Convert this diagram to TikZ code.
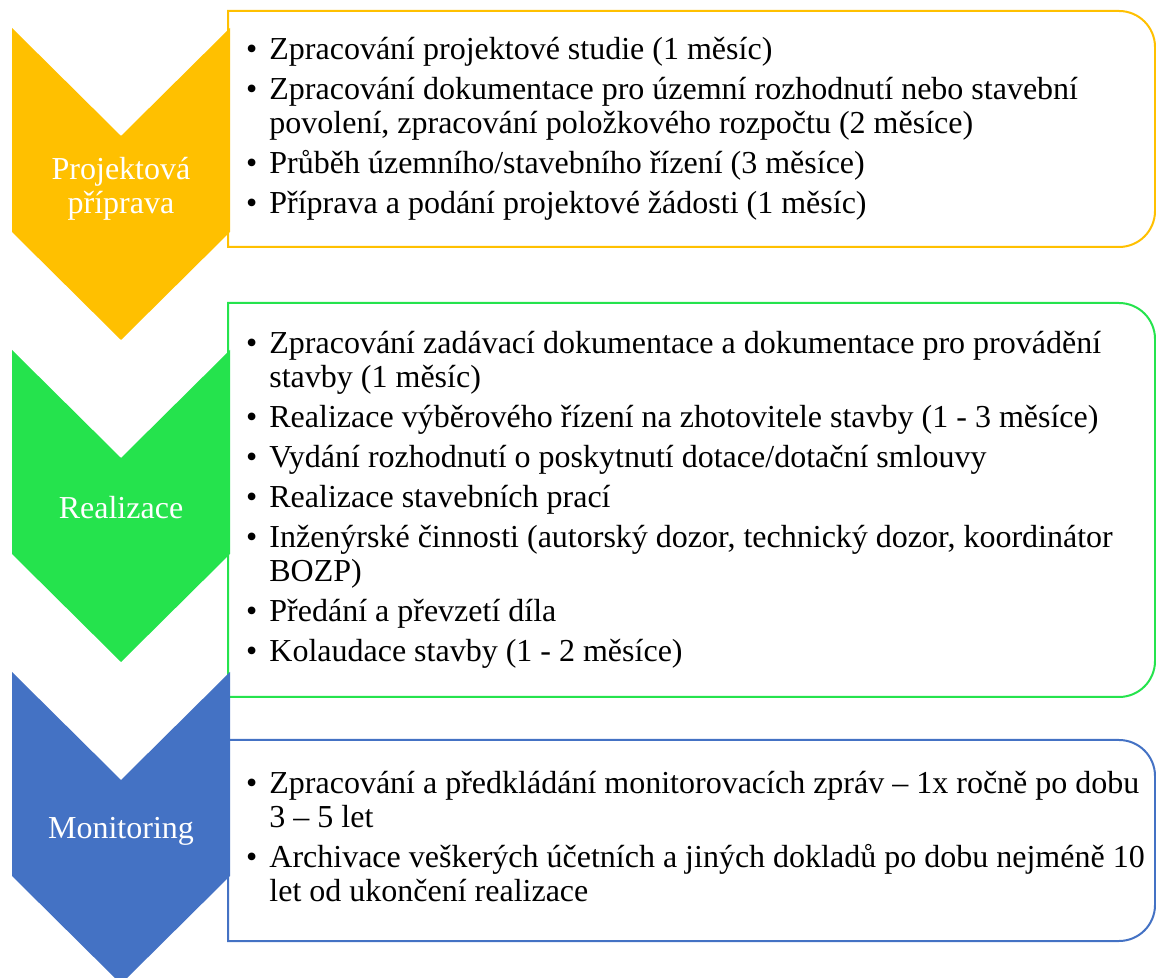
\documentclass[tikz,border=0pt]{standalone}
\usepackage{fontspec}
\setmainfont{Liberation Serif}
\usetikzlibrary{positioning}
\definecolor{planyellow}{RGB}{255,192,0}
\definecolor{plangreen}{RGB}{37,227,77}
\definecolor{planblue}{RGB}{68,114,196}
\tikzset{%
  phase chevron/.style={
    fill=#1,
    draw=none
  },
  phase box/.style={
    draw=#1,
    line width=2pt,
    fill=white
  },
  phase label/.style={
    text=white,
    align=center,
    font=\fontsize{32}{34}\selectfont
  },
  task list/.style={
    anchor=west,
    inner sep=0pt,
    font=\fontsize{32}{34}\selectfont
  },
}
\newcommand{\taskgap}{\\[6pt]}

\begin{document}
\begin{tikzpicture}[x=1pt, y=1pt]
\useasboundingbox (0,0) rectangle (1156,977);
% boxes
    \draw[phase box=planyellow] (228,730) -- (228,966) -- (1119,966)
        arc[start angle=90, end angle=0, radius=36] -- (1155,766)
        arc[start angle=0, end angle=-90, radius=36] -- cycle;
    \draw[phase box=plangreen] (228,280) -- (228,674) -- (1119,674)
        arc[start angle=90, end angle=0, radius=36] -- (1155,316)
        arc[start angle=0, end angle=-90, radius=36] -- cycle;
    \draw[phase box=planblue] (228,36) -- (228,237) -- (1119,237)
        arc[start angle=90, end angle=0, radius=36] -- (1155,72)
        arc[start angle=0, end angle=-90, radius=36] -- cycle;

% chevrons
    \fill[phase chevron=planyellow] (12,949) -- (121,841) -- (230,949) -- (230,745)
        -- (121,637) -- (12,745) -- cycle;
    \fill[phase chevron=plangreen] (12,627) -- (121,519) -- (230,627) -- (230,423)
        -- (121,315) -- (12,423) -- cycle;
    \fill[phase chevron=planblue] (12,305) -- (121,197) -- (230,305) -- (230,101)
        -- (121,-7) -- (12,101) -- cycle;

    \node[phase label] (priprava) at (121,788) {Projektová\\příprava};
    \node[phase label] (realizace) at (121,469) {Realizace};
    \node[phase label] (monitoring) at (121,146) {Monitoring};

% task lists
    \node[task list] (ukolyP) at (246,847) {%
      \begin{tabular}{@{}c@{\hspace{12pt}}l@{}}
      \textbullet & Zpracování projektové studie (1 měsíc)\taskgap
      \textbullet & Zpracování dokumentace pro územní rozhodnutí nebo stavební\\
                  & povolení, zpracování položkového rozpočtu (2 měsíce)\taskgap
      \textbullet & Průběh územního/stavebního řízení (3 měsíce)\taskgap
      \textbullet & Příprava a podání projektové žádosti (1 měsíc)
      \end{tabular}};
    \node[task list] (ukolyR) at (246,476) {%
      \begin{tabular}{@{}c@{\hspace{12pt}}l@{}}
      \textbullet & Zpracování zadávací dokumentace a dokumentace pro provádění\\
                  & stavby (1 měsíc)\taskgap
      \textbullet & Realizace výběrového řízení na zhotovitele stavby (1 - 3 měsíce)\taskgap
      \textbullet & Vydání rozhodnutí o poskytnutí dotace/dotační smlouvy\taskgap
      \textbullet & Realizace stavebních prací\taskgap
      \textbullet & Inženýrské činnosti (autorský dozor, technický dozor, koordinátor\\
                  & BOZP)\taskgap
      \textbullet & Předání a převzetí díla\taskgap
      \textbullet & Kolaudace stavby (1 - 2 měsíce)
      \end{tabular}};
    \node[task list] (ukolyM) at (246,136) {%
      \begin{tabular}{@{}c@{\hspace{12pt}}l@{}}
      \textbullet & Zpracování a předkládání monitorovacích zpráv – 1x ročně po dobu\\
                  & 3 – 5 let\taskgap
      \textbullet & Archivace veškerých účetních a jiných dokladů po dobu nejméně 10\\
                  & let od ukončení realizace
      \end{tabular}};
\end{tikzpicture}
\end{document}
